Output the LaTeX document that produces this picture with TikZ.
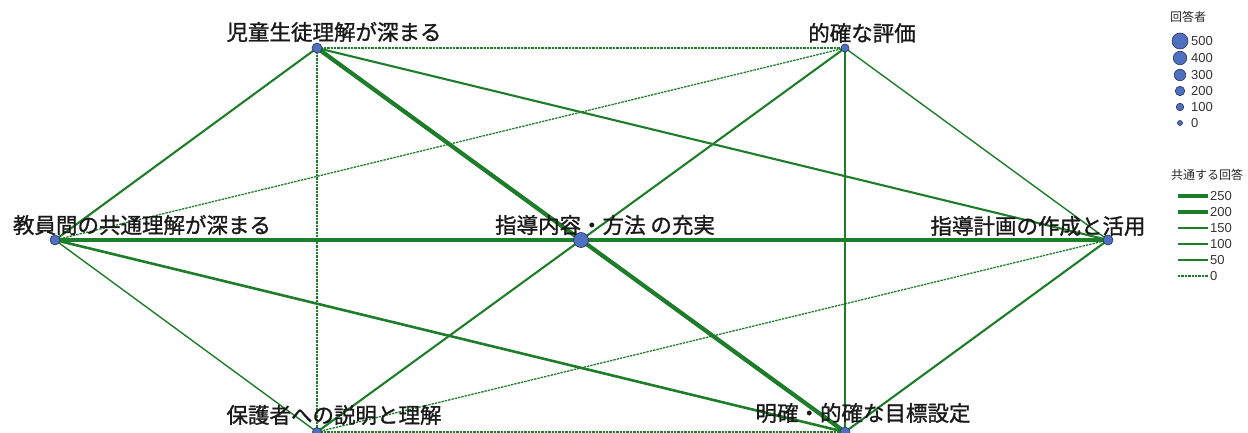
\documentclass[tikz,border=0pt]{standalone}
\usepackage{fontspec}
\setmainfont{Liberation Sans}
\newfontfamily\jp{Noto Sans CJK JP}
\newfontfamily\jpb{Noto Sans CJK JP}[FakeBold=1.2]
\begin{document}
\begin{tikzpicture}[x=1pt,y=-1pt,
  gcol/.style={draw={rgb,255:red,30;green,125;blue,40}},
  w0/.style={gcol,line width=1.3pt,dash pattern=on 2.4pt off 1pt},
  w50/.style={gcol,line width=1.4pt},
  w100/.style={gcol,line width=2.1pt},
  w150/.style={gcol,line width=2.6pt},
  w200/.style={gcol,line width=3.2pt},
  w250/.style={gcol,line width=4.2pt},
  vtx/.style={circle,fill={rgb,255:red,79;green,111;blue,192},draw={rgb,255:red,40;green,50;blue,90},line width=0.6pt,inner sep=0pt},
  lab/.style={font=\jpb\fontsize{21.5}{21.5}\selectfont,text=black!90,inner sep=0pt},
  lgt/.style={font=\jp\fontsize{12}{12}\selectfont,text=black!85,inner sep=0pt},
  lgn/.style={font=\fontsize{13}{13}\selectfont,text=black!80,anchor=west,inner sep=0pt}]
\useasboundingbox (0,0) rectangle (1248,433);
% vertex positions
\coordinate (A) at (317,48);
\coordinate (B) at (845,48);
\coordinate (C) at (55,240);
\coordinate (D) at (581,240);
\coordinate (E) at (1108,240);
\coordinate (F) at (317,432);
\coordinate (G) at (845,432);
% edges
\draw[w0] (A) -- (B);
\draw[w0] (A) -- (F);
\draw[w0] (B) -- (C);
\draw[w0] (E) -- (F);
\draw[w0] (F) -- (G);
\draw[w50] (B) -- (E);
\draw[w50] (B) -- (G);
\draw[w50] (C) -- (F);
\draw[w100] (A) -- (C);
\draw[w100] (A) -- (E);
\draw[w100] (B) -- (D);
\draw[w100] (D) -- (F);
\draw[w100] (E) -- (G);
\draw[w150] (C) -- (G);
\draw[w200] (C) -- (D);
\draw[w200] (D) -- (E);
\draw[w250] (A) -- (D);
\draw[w250] (D) -- (G);
% vertices
\node[vtx,minimum size=10pt] (nA) at (A) {};
\node[vtx,minimum size=8pt] (nB) at (B) {};
\node[vtx,minimum size=10pt] (nC) at (C) {};
\node[vtx,minimum size=15pt] (nD) at (D) {};
\node[vtx,minimum size=10pt] (nE) at (E) {};
\node[vtx,minimum size=9pt] (nF) at (F) {};
\node[vtx,minimum size=10pt] (nG) at (G) {};
% labels
\node[lab] (lA) at (334,32) {児童生徒理解が深まる};
\node[lab] (lB) at (862,33) {的確な評価};
\node[lab] (lC) at (142,225) {教員間の共通理解が深まる};
\node[lab] (lD) at (605,225) {指導内容・方法 の充実};
\node[lab] (lE) at (1038,226) {指導計画の作成と活用};
\node[lab] (lF) at (334,415) {保護者への説明と理解};
\node[lab] (lG) at (863,413) {明確・的確な目標設定};
% legend 1
\node[lgt] (t1) at (1188,17) {回答者};
\node[vtx,minimum size=16pt] (c5) at (1180,41) {};
\node[vtx,minimum size=13.5pt] (c4) at (1180,58) {};
\node[vtx,minimum size=11.5pt] (c3) at (1180,75) {};
\node[vtx,minimum size=9.5pt] (c2) at (1180,91) {};
\node[vtx,minimum size=7.5pt] (c1) at (1180,107) {};
\node[vtx,minimum size=5pt] (c0) at (1180,123) {};
\node[lgn] (n5) at (1191,41) {500};
\node[lgn] (n4) at (1191,58) {400};
\node[lgn] (n3) at (1191,75) {300};
\node[lgn] (n2) at (1191,91) {200};
\node[lgn] (n1) at (1191,107) {100};
\node[lgn] (n0) at (1191,123) {0};
% legend 2
\node[lgt] (t2) at (1207,175) {共通する回答};
\coordinate (s5) at (1178,196); \coordinate (e5) at (1208,196);
\coordinate (s4) at (1178,212); \coordinate (e4) at (1208,212);
\coordinate (s3) at (1178,228); \coordinate (e3) at (1208,228);
\coordinate (s2) at (1178,244); \coordinate (e2) at (1208,244);
\coordinate (s1) at (1178,260); \coordinate (e1) at (1208,260);
\coordinate (s0) at (1178,276); \coordinate (e0) at (1208,276);
\draw[w250] (s5) -- (e5);
\draw[w200] (s4) -- (e4);
\draw[w150] (s3) -- (e3);
\draw[w100] (s2) -- (e2);
\draw[w50] (s1) -- (e1);
\draw[w0] (s0) -- (e0);
\node[lgn] (m5) at (1210,196) {250};
\node[lgn] (m4) at (1210,212) {200};
\node[lgn] (m3) at (1210,228) {150};
\node[lgn] (m2) at (1210,244) {100};
\node[lgn] (m1) at (1210,260) {50};
\node[lgn] (m0) at (1210,276) {0};
\end{tikzpicture}
\end{document}
